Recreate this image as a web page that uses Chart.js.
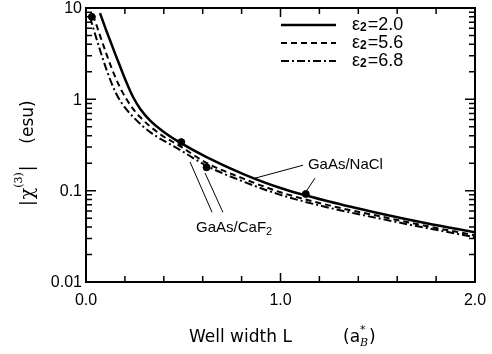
<!DOCTYPE html>
<html>
<head>
<meta charset="utf-8">
<script src="https://cdn.jsdelivr.net/npm/chart.js@4.4.1/dist/chart.umd.min.js"></script>
<style>
  html, body { margin: 0; padding: 0; background: #fff; }
  #chart { display: block; }
</style>
</head>
<body>
<canvas id="chart" width="492" height="354"></canvas>
<script>
// Curves: well width L (a_B*) vs |chi(3)| (esu)
const L_EPS20 = [0.072, 0.1, 0.123, 0.15, 0.175, 0.21, 0.242, 0.28, 0.33, 0.4, 0.48, 0.62, 0.8, 1.0, 1.25, 1.5, 1.75, 2.0];
const CHI_EPS20 = [8.8, 6.0, 4.46, 3.15, 2.3, 1.5, 1.06, 0.78, 0.585, 0.44, 0.34, 0.233, 0.155, 0.107, 0.076, 0.057, 0.044, 0.035];

const L_EPS56 = [0.036, 0.108, 0.149, 0.19, 0.231, 0.278, 0.38, 0.483, 0.622, 0.8, 1.0, 1.25, 1.5, 1.75, 2.0];
const CHI_EPS56 = [8.38, 3.01, 1.78, 1.17, 0.845, 0.64, 0.417, 0.308, 0.2, 0.138, 0.096, 0.069, 0.053, 0.041, 0.0325];

const L_EPS68 = [0.02, 0.072, 0.108, 0.149, 0.185, 0.242, 0.33, 0.483, 0.622, 0.8, 1.0, 1.25, 1.5, 1.75, 2.0];
const CHI_EPS68 = [7.97, 3.47, 2.04, 1.23, 0.9, 0.643, 0.438, 0.28, 0.186, 0.128, 0.09, 0.065, 0.05, 0.039, 0.031];

// filled dots on the curves
const L_DOTS = [0.03, 0.49, 0.62, 1.13];
const CHI_DOTS = [8.0, 0.34, 0.18, 0.092];

const SERIES_LABELS = ["2.0", "5.6", "6.8"];
const X_TICKS = [0, 1, 2];
const Y_TICKS = [0.01, 0.1, 1, 10];

// leader lines for the material labels: [L1, chi1, L2, chi2]
const CAF2_LEADERS = [[0.535, 0.206, 0.648, 0.058], [0.612, 0.156, 0.704, 0.058]];
const NACL_LEADERS = [[1.116, 0.19, 0.869, 0.137], [1.177, 0.137, 1.126, 0.094]];
const CAF2_AT = [0.566, 0.039];
const NACL_AT = [1.141, 0.19];

const pts = (xs, ys) => xs.map((x, i) => ({ x, y: ys[i] }));

const SANS = '"Liberation Sans", Arial, sans-serif';

const lineSet = (label, xs, ys, width, dash) => ({
  label,
  data: pts(xs, ys),
  borderColor: "#000",
  borderWidth: width,
  borderDash: dash,
  pointRadius: 0,
  fill: false,
  cubicInterpolationMode: "monotone",
});

const frame = {
  id: "frame",
  afterDraw(chart) {
    const { ctx, chartArea: a, scales } = chart;
    const xs = scales.x, ys = scales.y;
    ctx.save();
    ctx.strokeStyle = "#000";
    ctx.fillStyle = "#000";
    ctx.lineWidth = 2;
    ctx.strokeRect(a.left, a.top, a.right - a.left, a.bottom - a.top);

    // log ticks on left and right, inward
    ctx.lineWidth = 1.5;
    ctx.beginPath();
    for (let d = -2; d <= 0; d++) {
      for (let m = 1; m <= 9; m++) {
        const y = ys.getPixelForValue(m * Math.pow(10, d));
        const len = m === 1 ? 10 : 6;
        ctx.moveTo(a.left, y); ctx.lineTo(a.left + len, y);
        ctx.moveTo(a.right, y); ctx.lineTo(a.right - len, y);
      }
    }
    // x ticks every 0.2, top and bottom
    for (let i = 1; i < 10; i++) {
      const x = xs.getPixelForValue(i * 0.2);
      const len = i === 5 ? 9 : 6;
      ctx.moveTo(x, a.bottom); ctx.lineTo(x, a.bottom - len);
      ctx.moveTo(x, a.top); ctx.lineTo(x, a.top + len);
    }
    ctx.stroke();

    // tick labels
    ctx.font = `16px ${SANS}`;
    ctx.textAlign = "right";
    ctx.textBaseline = "middle";
    Y_TICKS.forEach((v) => ctx.fillText(String(v), a.left - 4, ys.getPixelForValue(v) + 1));
    ctx.textAlign = "center";
    ctx.textBaseline = "top";
    X_TICKS.forEach((v) => ctx.fillText(v.toFixed(1), xs.getPixelForValue(v), 293));

    // leader lines and material labels
    ctx.lineWidth = 1;
    ctx.beginPath();
    [...CAF2_LEADERS, ...NACL_LEADERS].forEach(([x1, y1, x2, y2]) => {
      ctx.moveTo(xs.getPixelForValue(x1), ys.getPixelForValue(y1));
      ctx.lineTo(xs.getPixelForValue(x2), ys.getPixelForValue(y2));
    });
    ctx.stroke();

    ctx.font = `15px ${SANS}`;
    ctx.textBaseline = "middle";
    ctx.textAlign = "left";
    const nx = xs.getPixelForValue(NACL_AT[0]), ny = ys.getPixelForValue(NACL_AT[1]);
    ctx.fillText("GaAs/NaCl", nx, ny);
    const cx = xs.getPixelForValue(CAF2_AT[0]), cy = ys.getPixelForValue(CAF2_AT[1]);
    ctx.fillText("GaAs/CaF", cx, cy);
    const cw = ctx.measureText("GaAs/CaF").width;
    ctx.font = `11px ${SANS}`;
    ctx.fillText("2", cx + cw, cy + 4);

    // legend
    const dashes = [[], [6, 4], [8, 3, 2, 3]];
    const widths = [2.5, 2, 2];
    SERIES_LABELS.forEach((lab, i) => {
      const y = 25 + i * 18;
      ctx.setLineDash(dashes[i]);
      ctx.lineWidth = widths[i];
      ctx.beginPath();
      ctx.moveTo(281, y); ctx.lineTo(336, y);
      ctx.stroke();
      ctx.setLineDash([]);
      let x = 352;
      ctx.font = `18px ${SANS}`;
      ctx.fillText("\u03b5", x, y);
      x += ctx.measureText("\u03b5").width;
      ctx.font = `bold 12px ${SANS}`;
      ctx.fillText("2", x, y + 3);
      x += ctx.measureText("2").width + 1;
      ctx.font = `18px ${SANS}`;
      ctx.fillText("=" + lab, x, y);
    });

    // x title
    ctx.font = '17px "DejaVu Sans", sans-serif';
    ctx.textBaseline = "alphabetic";
    ctx.fillText("Well width L", 189, 342);
    let tx = 343;
    ctx.fillText("(a", tx, 342);
    tx += ctx.measureText("(a").width;
    ctx.font = '11px "DejaVu Sans", sans-serif';
    ctx.fillText("*", tx, 333);
    ctx.font = 'italic 11px "DejaVu Serif", serif';
    ctx.fillText("B", tx, 346);
    tx += 9;
    ctx.font = '17px "DejaVu Sans", sans-serif';
    ctx.fillText(")", tx, 342);

    // y title, rotated
    ctx.save();
    ctx.translate(33, 0);
    ctx.rotate(-Math.PI / 2);
    ctx.textBaseline = "alphabetic";
    ctx.font = '17px "DejaVu Sans", sans-serif';
    ctx.textAlign = "center";
    ctx.fillText("(esu)", -122, 0);
    ctx.textAlign = "left";
    let yx = -206;
    ctx.fillText("|", yx, 0);
    yx += ctx.measureText("|").width + 1;
    ctx.font = '19px "DejaVu Serif", serif';
    ctx.fillText("\u03c7", yx, 0);
    yx += ctx.measureText("\u03c7").width;
    ctx.font = '11px "DejaVu Serif", serif';
    ctx.fillText("(3)", yx, -11);
    yx += ctx.measureText("(3)").width + 1;
    ctx.font = '17px "DejaVu Sans", sans-serif';
    ctx.fillText("|", yx, 0);
    ctx.restore();

    ctx.restore();
  },
};

new Chart(document.getElementById("chart"), {
  type: "line",
  data: {
    datasets: [
      lineSet("e2=2.0", L_EPS20, CHI_EPS20, 2.5, []),
      lineSet("e2=5.6", L_EPS56, CHI_EPS56, 2, [6, 4]),
      lineSet("e2=6.8", L_EPS68, CHI_EPS68, 2, [8, 3, 2, 3]),
      {
        label: "dots",
        data: pts(L_DOTS, CHI_DOTS),
        showLine: false,
        pointRadius: 3.5,
        pointBackgroundColor: "#000",
        pointBorderColor: "#000",
      },
    ],
  },
  options: {
    responsive: false,
    animation: false,
    devicePixelRatio: 1,
    layout: { padding: { top: 8, right: 17, left: 0, bottom: 0 } },
    plugins: { legend: { display: false }, tooltip: { enabled: false } },
    scales: {
      x: {
        type: "linear",
        min: 0,
        max: 2,
        grid: { display: false, drawTicks: false },
        border: { display: false },
        ticks: { display: false },
        afterFit: (s) => { s.height = 72; },
      },
      y: {
        type: "logarithmic",
        min: 0.01,
        max: 10,
        grid: { display: false, drawTicks: false },
        border: { display: false },
        ticks: { display: false },
        afterFit: (s) => { s.width = 86; },
      },
    },
  },
  plugins: [frame],
});
</script>
</body>
</html>
